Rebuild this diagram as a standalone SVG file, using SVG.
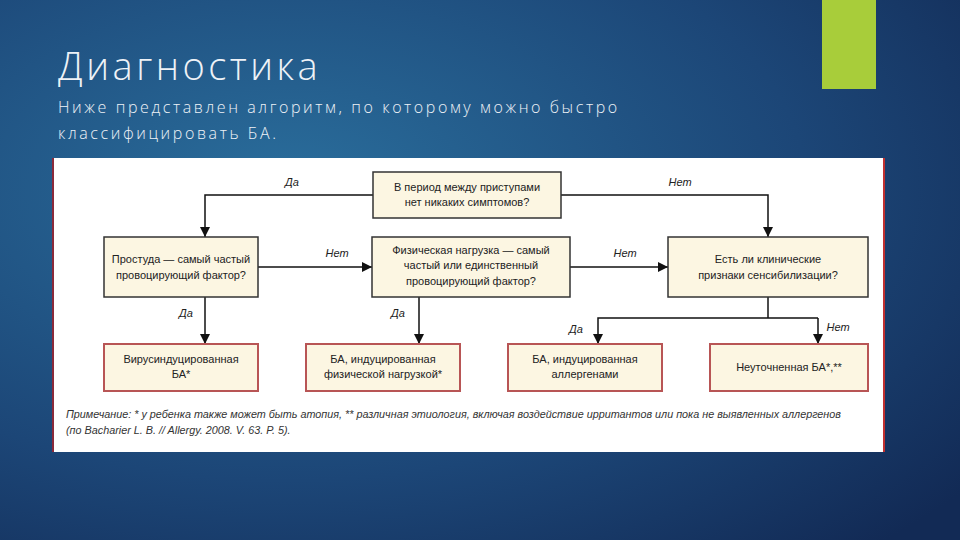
<svg xmlns="http://www.w3.org/2000/svg" width="960" height="540" viewBox="0 0 960 540">
<defs>
<radialGradient id="bg" cx="0.3" cy="0.35" r="0.9">
<stop offset="0" stop-color="#2a6e9c"/><stop offset="0.6" stop-color="#1c4677"/><stop offset="1" stop-color="#122a55"/>
</radialGradient>
<marker id="ar" viewBox="0 0 10 10" refX="10" refY="5" markerWidth="7" markerHeight="7" orient="auto"><path d="M0,0L10,5L0,10z" fill="#111"/></marker>
<style>
.q{fill:#fcf6e2;stroke:#333;stroke-width:1.5}
.r{fill:#fcf6e2;stroke:#b85555;stroke-width:2}
.t{font-family:"Liberation Sans",Arial,sans-serif;font-size:11px;fill:#222;text-anchor:middle}
.l{font-family:"Liberation Sans",Arial,sans-serif;font-size:11px;font-style:italic;fill:#222;text-anchor:middle}
.c{fill:none;stroke:#111;stroke-width:1.5;marker-end:url(#ar)}
</style>
</defs>
<rect width="960" height="540" fill="url(#bg)"/>
<rect x="822" y="0" width="54" height="89" fill="#a8cd3a"/>
<text x="58" y="80" font-family="'Open Sans','Liberation Sans',sans-serif" font-size="38" font-weight="300" letter-spacing="3.5" fill="#eef2f7">Диагностика</text>
<text font-family="'Open Sans','Liberation Sans',sans-serif" font-size="16" font-weight="300" letter-spacing="2.6" fill="#eef2f7"><tspan x="58" y="113">Ниже представлен алгоритм, по которому  можно быстро</tspan><tspan x="58" y="139">классифицировать БА.</tspan></text>
<rect x="52" y="158" width="833" height="294" fill="#fff"/>
<line x1="53" y1="158" x2="53" y2="452" stroke="#8a2a3a" stroke-width="2"/>
<line x1="884" y1="158" x2="884" y2="452" stroke="#c03030" stroke-width="2"/>
<g id="connectors">
<path class="c" d="M373,195H205V237"/>
<path class="c" d="M561,195H768V237"/>
<path class="c" d="M258,267H372"/>
<path class="c" d="M570,267H668"/>
<path class="c" d="M205,297V344"/>
<path class="c" d="M419,297V344"/>
<path fill="none" stroke="#111" stroke-width="1.5" d="M768,297V318"/>
<path class="c" d="M818,318H598V344"/>
<path class="c" d="M818,318V344"/>
<text class="l" x="292" y="186">Да</text>
<text class="l" x="680" y="186">Нет</text>
<text class="l" x="337" y="257">Нет</text>
<text class="l" x="625" y="257">Нет</text>
<text class="l" x="186" y="317">Да</text>
<text class="l" x="398" y="317">Да</text>
<text class="l" x="576" y="333">Да</text>
<text class="l" x="838" y="331">Нет</text>
</g>
<g id="q1"><rect class="q" x="373" y="172" width="188" height="46"/><text class="t" x="467" y="191">В период между приступами</text><text class="t" x="467" y="206">нет никаких симптомов?</text></g>
<g id="q2"><rect class="q" x="104" y="237" width="154" height="60"/><text class="t" x="181" y="263">Простуда — самый частый</text><text class="t" x="181" y="279">провоцирующий фактор?</text></g>
<g id="q3"><rect class="q" x="372" y="237" width="198" height="60"/><text class="t" x="471" y="254">Физическая нагрузка — самый</text><text class="t" x="471" y="269">частый или единственный</text><text class="t" x="471" y="285">провоцирующий фактор?</text></g>
<g id="q4"><rect class="q" x="668" y="237" width="200" height="60"/><text class="t" x="768" y="263">Есть ли клинические</text><text class="t" x="768" y="279">признаки сенсибилизации?</text></g>
<g id="r1"><rect class="r" x="104" y="344" width="154" height="47"/><text class="t" x="181" y="363">Вирусиндуцированная</text><text class="t" x="181" y="378">БА*</text></g>
<g id="r2"><rect class="r" x="306" y="344" width="154" height="47"/><text class="t" x="383" y="363">БА, индуцированная</text><text class="t" x="383" y="378">физической нагрузкой*</text></g>
<g id="r3"><rect class="r" x="508" y="344" width="154" height="47"/><text class="t" x="585" y="363">БА, индуцированная</text><text class="t" x="585" y="378">аллергенами</text></g>
<g id="r4"><rect class="r" x="710" y="344" width="158" height="47"/><text class="t" x="789" y="371">Неуточненная БА*,**</text></g>
<text font-family="'Liberation Sans',Arial,sans-serif" font-size="10.8" font-style="italic" fill="#333"><tspan x="66" y="418">Примечание: * у ребенка также может быть атопия, ** различная этиология, включая воздействие ирритантов или пока не выявленных аллергенов</tspan><tspan x="66" y="434">(по Bacharier L. B. // Allergy. 2008. V. 63. P. 5).</tspan></text>
</svg>
